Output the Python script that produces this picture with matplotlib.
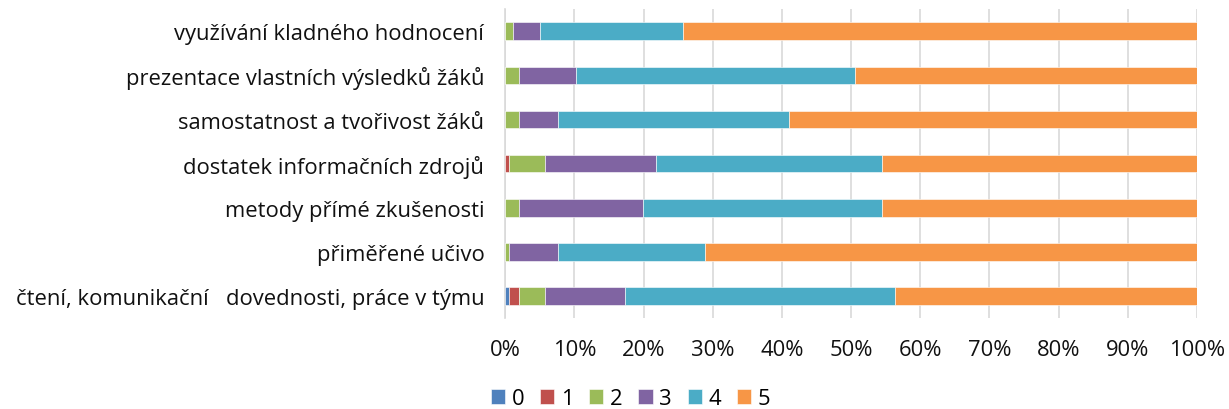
import numpy as np
import matplotlib
matplotlib.use("Agg")
import matplotlib.pyplot as plt
from matplotlib.ticker import PercentFormatter

plt.rcParams["font.family"] = ["Open Sans", "DejaVu Sans"]

# categories bottom -> top (as drawn)
categories = [
    "čtení, komunikační   dovednosti, práce v týmu",
    "přiměřené učivo",
    "metody přímé zkušenosti",
    "dostatek informačních zdrojů",
    "samostatnost a tvořivost žáků",
    "prezentace vlastních výsledků žáků",
    "využívání kladného hodnocení",
]
grades = ["0", "1", "2", "3", "4", "5"]

# share of answers (%) per grade, same order as categories
grade_0 = [0.6, 0.0, 0.0, 0.0, 0.0, 0.0, 0.0]
grade_1 = [1.4, 0.0, 0.0, 0.6, 0.0, 0.0, 0.0]
grade_2 = [3.8, 0.6, 2.0, 5.2, 2.0, 2.0, 1.2]
grade_3 = [11.5, 7.1, 17.9, 16.0, 5.7, 8.3, 3.9]
grade_4 = [39.1, 21.2, 34.6, 32.7, 33.3, 40.3, 20.6]
grade_5 = [43.6, 71.1, 45.5, 45.5, 59.0, 49.4, 74.3]

colors = ["#4F81BD", "#C0504D", "#9BBB59", "#8064A2", "#4BACC6", "#F79646"]

fig = plt.figure(figsize=(12.29, 4.10), dpi=100)
ax = fig.add_axes([0.411, 0.222, 0.563, 0.753])

y = np.arange(len(categories))
left = np.zeros(len(categories))
for name, vals, col in zip(grades, [grade_0, grade_1, grade_2, grade_3, grade_4, grade_5], colors):
    vals = np.array(vals)
    ax.barh(y, vals, left=left, height=0.4, color=col, label=name,
            edgecolor="white", linewidth=0.4, zorder=3)
    left += vals

ax.set_xlim(0, 100)
ax.set_ylim(-0.5, len(categories) - 0.5)
ax.set_xticks(np.arange(0, 101, 10))
ax.xaxis.set_major_formatter(PercentFormatter(decimals=0))
ax.set_yticks(y)
ax.set_yticklabels(categories)
ax.grid(axis="x", color="#d9d9d9", linewidth=1.2, zorder=0)
for s in ["top", "right", "bottom"]:
    ax.spines[s].set_visible(False)
ax.spines["left"].set_color("#d9d9d9")
ax.spines["left"].set_linewidth(1.2)
ax.tick_params(axis="both", length=0, labelsize=15.8, colors="#111111")
ax.tick_params(axis="x", pad=15)
ax.tick_params(axis="y", pad=15)

fig.legend(loc="lower center", bbox_to_anchor=(0.513, -0.038), ncol=6, frameon=False,
           fontsize=15.8, handlelength=0.65, handleheight=0.65, handletextpad=0.3,
           columnspacing=0.72, borderpad=0.2)

fig.savefig("out.png", dpi=100)
